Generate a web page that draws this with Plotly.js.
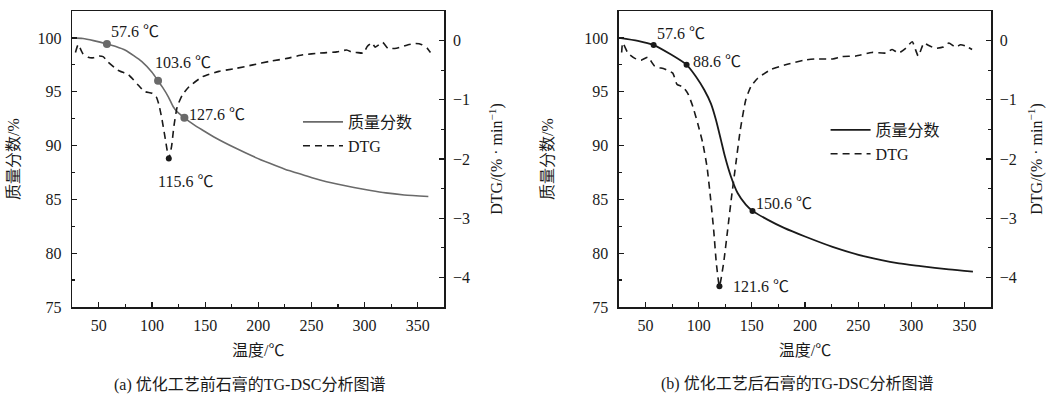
<!DOCTYPE html>
<html>
<head>
<meta charset="utf-8">
<script src="https://cdn.plot.ly/plotly-3.0.1.min.js"></script>
<style>html,body{margin:0;padding:0;background:#fff;}</style>
</head>
<body>
<div id="chart" style="width:1056px;height:397px;"></div>
<script>
// ---- (a) before optimisation ----
const tempTgA = [25, 35, 45, 57.6, 66, 75, 90.5, 100, 105.7, 110, 115.5, 120, 124, 130.5, 140, 147.5, 160, 179, 195, 210.8, 225, 242.4, 258, 274, 290, 305.7, 320, 337.3, 360];
const tgA     = [100, 99.95, 99.75, 99.44, 99.2, 98.85, 97.8, 96.8, 96.0, 95.4, 94.5, 93.6, 93.1, 92.58, 91.9, 91.44, 90.7, 89.74, 89.0, 88.35, 87.8, 87.27, 86.8, 86.43, 86.1, 85.82, 85.6, 85.41, 85.26];
const tempDtgA = [28, 30.5, 35, 40, 45, 50, 54, 58, 68, 78, 87, 93, 100, 104, 106.5, 109.5, 112.7, 115.8, 118.4, 120.6, 123.7, 128.5, 134.8, 147.5, 163, 179, 195, 211, 227, 242, 258, 274, 283, 289, 292, 299, 302.5, 307, 310, 317, 322, 330, 341, 348, 354, 359, 362];
const dtgA     = [-0.2, -0.07, -0.22, -0.28, -0.29, -0.26, -0.27, -0.35, -0.50, -0.58, -0.75, -0.86, -0.89, -0.95, -1.08, -1.34, -1.68, -1.99, -1.79, -1.45, -1.12, -0.92, -0.78, -0.61, -0.52, -0.47, -0.41, -0.35, -0.30, -0.24, -0.21, -0.19, -0.16, -0.20, -0.20, -0.21, -0.10, -0.04, -0.11, -0.03, -0.13, -0.13, -0.07, -0.05, -0.07, -0.13, -0.20];
const markTgA_x = [57.6, 105.7, 130.5];
const markTgA_y = [99.44, 96.01, 92.58];
const markDtgA_x = [115.8];
const markDtgA_y = [-1.99];
const labelsA = ["57.6 ℃", "103.6 ℃", "127.6 ℃", "115.6 ℃"];

// ---- (b) after optimisation ----
const tempTgB = [25, 42.8, 57.6, 74, 88.6, 97.5, 105.3, 111.5, 116.2, 120.9, 124.7, 130.3, 136.6, 144.3, 150.6, 164.7, 180.3, 200, 225.9, 257.2, 288.4, 308.8, 335.3, 358];
const tgB     = [100, 99.72, 99.33, 98.45, 97.5, 96.4, 95.16, 93.9, 92.4, 90.53, 88.98, 87.13, 85.59, 84.51, 83.93, 83.12, 82.35, 81.55, 80.59, 79.67, 79.05, 78.8, 78.49, 78.28];
const tempDtgB = [27.5, 28.5, 33.4, 40, 45.9, 52.2, 58.5, 67.8, 75.6, 79.6, 85, 89.7, 94.4, 99.1, 103.8, 107.8, 111, 114.1, 116.6, 119.5, 123.4, 127.2, 130.9, 135, 139.1, 144.3, 149, 155.3, 167.8, 183.4, 199, 210, 226, 235, 248, 263, 276, 282, 288, 294.7, 300.9, 306.5, 311.9, 316, 322.8, 330, 335.3, 341.6, 346.3, 351, 357.2];
const dtgB     = [-0.2, -0.04, -0.21, -0.30, -0.33, -0.28, -0.43, -0.48, -0.55, -0.74, -0.78, -0.89, -1.11, -1.40, -1.73, -2.13, -2.64, -3.20, -3.76, -4.15, -3.76, -3.20, -2.64, -2.07, -1.51, -1.00, -0.78, -0.64, -0.49, -0.40, -0.33, -0.31, -0.31, -0.27, -0.26, -0.20, -0.21, -0.15, -0.21, -0.13, -0.02, -0.26, -0.04, -0.08, -0.13, -0.11, -0.04, -0.11, -0.07, -0.09, -0.15];
const markTgB_x = [57.6, 88.6, 150.6];
const markTgB_y = [99.33, 97.5, 83.93];
const markDtgB_x = [119.5];
const markDtgB_y = [-4.15];
const labelsB = ["57.6 ℃", "88.6 ℃", "150.6 ℃", "121.6 ℃"];

const seriesNames = ["质量分数", "DTG"];
const captions = ["(a) 优化工艺前石膏的TG-DSC分析图谱", "(b) 优化工艺后石膏的TG-DSC分析图谱"];
const xTitle = "温度/℃";
const yTitleL = "质量分数/%";
const yTitleR = "DTG/(% · min<sup>−1</sup>)";

const FONT = "Liberation Serif, 'Times New Roman', 'Noto Sans CJK SC', serif";
const INK = "#1a1a1a";
const GRAY = "#6a6a6a";
const DASH = "7px,5px";

const traces = [
  {x: tempTgA, y: tgA, xaxis: 'x', yaxis: 'y', mode: 'lines', name: seriesNames[0], legend: 'legend',
   line: {color: GRAY, width: 1.6, shape: 'spline', smoothing: 0.6}},
  {x: tempDtgA, y: dtgA, xaxis: 'x', yaxis: 'y2', mode: 'lines', name: seriesNames[1], legend: 'legend',
   line: {color: INK, width: 1.6, dash: DASH, shape: 'spline', smoothing: 0.5}},
  {x: markTgA_x, y: markTgA_y, xaxis: 'x', yaxis: 'y', mode: 'markers', showlegend: false,
   marker: {color: GRAY, size: 8}},
  {x: markDtgA_x, y: markDtgA_y, xaxis: 'x', yaxis: 'y2', mode: 'markers', showlegend: false,
   marker: {color: INK, size: 6}},
  {x: tempTgB, y: tgB, xaxis: 'x2', yaxis: 'y3', mode: 'lines', name: seriesNames[0], legend: 'legend2',
   line: {color: INK, width: 1.8, shape: 'spline', smoothing: 0.6}},
  {x: tempDtgB, y: dtgB, xaxis: 'x2', yaxis: 'y4', mode: 'lines', name: seriesNames[1], legend: 'legend2',
   line: {color: INK, width: 1.6, dash: DASH, shape: 'spline', smoothing: 0.5}},
  {x: markTgB_x, y: markTgB_y, xaxis: 'x2', yaxis: 'y3', mode: 'markers', showlegend: false,
   marker: {color: INK, size: 6}},
  {x: markDtgB_x, y: markDtgB_y, xaxis: 'x2', yaxis: 'y4', mode: 'markers', showlegend: false,
   marker: {color: INK, size: 6}}
];

const tickFont = {family: FONT, size: 16, color: INK};
function xAxis(domain, anchor) {
  return {domain: domain, anchor: anchor, range: [25, 375], tick0: 0, dtick: 50,
    ticks: 'inside', ticklen: 5, tickwidth: 1.2, tickcolor: INK,
    minor: {ticks: 'inside', ticklen: 3, dtick: 25, tick0: 0, tickcolor: INK, tickwidth: 1.2},
    showline: true, linecolor: INK, linewidth: 1.5, mirror: true,
    showgrid: false, zeroline: false, tickfont: tickFont, ticklabelstandoff: 3,
    title: {text: xTitle, font: {family: FONT, size: 16, color: INK}, standoff: 12}};
}
function yLeft(anchor, standoff) {
  return {anchor: anchor, domain: [0, 1], range: [75, 102.5], tick0: 0, dtick: 5,
    ticks: 'inside', ticklen: 5, tickwidth: 1.2, tickcolor: INK,
    minor: {ticks: 'inside', ticklen: 3, dtick: 2.5, tick0: 0, tickcolor: INK, tickwidth: 1.2},
    showline: true, linecolor: INK, linewidth: 1.5,
    showgrid: false, zeroline: false, tickfont: tickFont, ticklabelstandoff: 6,
    title: {text: yTitleL, font: {family: FONT, size: 16, color: INK}, standoff: standoff}};
}
function yRight(overlay, anchor, standoff) {
  return {overlaying: overlay, anchor: anchor, side: 'right', range: [-4.5, 0.5], tick0: 0, dtick: 1,
    ticks: 'inside', ticklen: 5, tickwidth: 1.2, tickcolor: INK,
    minor: {ticks: 'inside', ticklen: 3, dtick: 0.5, tick0: 0, tickcolor: INK, tickwidth: 1.2},
    showline: true, linecolor: INK, linewidth: 1.5,
    showgrid: false, zeroline: false, tickfont: tickFont, ticklabelstandoff: 4,
    title: {text: yTitleR, font: {family: FONT, size: 16, color: INK}, standoff: standoff}};
}

function ann(xref, yref, x, y, text, xanchor) {
  return {xref: xref, yref: yref, x: x, y: y, text: text, showarrow: false,
    xanchor: xanchor || 'left', yanchor: 'middle', font: {family: FONT, size: 16, color: INK}};
}

const annotations = [
  ann('x', 'y', 59.5, 100.55, labelsA[0]),
  ann('x', 'y', 100.9, 97.68, labelsA[1]),
  ann('x', 'y', 132.6, 92.9, labelsA[2]),
  ann('x', 'y', 103.7, 86.64, labelsA[3]),
  ann('x2', 'y3', 59.0, 100.4, labelsB[0]),
  ann('x2', 'y3', 92.8, 97.77, labelsB[1]),
  ann('x2', 'y3', 152.2, 84.64, labelsB[2]),
  ann('x2', 'y3', 130.3, 76.9, labelsB[3]),
  {xref: 'paper', yref: 'paper', x: 0.1937, y: -0.2635, text: captions[0], showarrow: false,
   xanchor: 'center', yanchor: 'middle', font: {family: FONT, size: 16, color: INK}},
  {xref: 'paper', yref: 'paper', x: 0.7889, y: -0.257, text: captions[1], showarrow: false,
   xanchor: 'center', yanchor: 'middle', font: {family: FONT, size: 16, color: INK}}
];

const legendBase = {bgcolor: 'rgba(0,0,0,0)', borderwidth: 0, xanchor: 'left', yanchor: 'top',
  font: {family: FONT, size: 16, color: INK}, tracegroupgap: 0, itemwidth: 40};

const layout = {
  width: 1056, height: 397, autosize: false,
  margin: {l: 72, r: 65, t: 11, b: 90, pad: 0},
  paper_bgcolor: '#fff', plot_bgcolor: 'rgba(0,0,0,0)',
  font: {family: FONT, size: 16, color: INK},
  xaxis: xAxis([0.0003, 0.4051], 'y'),
  yaxis: yLeft('x', 14),
  yaxis2: yRight('y', 'x', 22),
  xaxis2: xAxis([0.5952, 1.0], 'y3'),
  yaxis3: yLeft('x2', 26),
  yaxis4: yRight('y3', 'x2', 15),
  showlegend: true,
  legend: Object.assign({}, legendBase, {x: 0.2459, y: 0.6824}),
  legend2: Object.assign({}, legendBase, {x: 0.8200, y: 0.6554}),
  annotations: annotations
};

Plotly.newPlot('chart', traces, layout, {displayModeBar: false, staticPlot: true});
</script>
</body>
</html>
